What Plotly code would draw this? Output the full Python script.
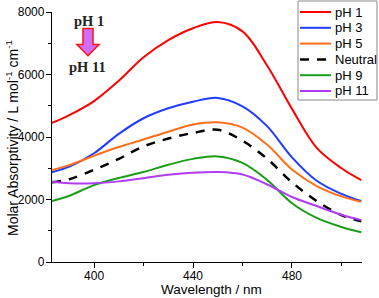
import plotly.graph_objects as go

wavelength = [383, 390, 400, 410, 420, 430, 440, 450, 460, 470, 480, 490, 500, 508]
ph1 = [4450, 4700, 5150, 5800, 6550, 7100, 7480, 7680, 7380, 6280, 4900, 3650, 3000, 2620]
ph3 = [2875, 3050, 3480, 4100, 4600, 4920, 5130, 5250, 4980, 4340, 3350, 2600, 2180, 1950]
ph5 = [2940, 3100, 3400, 3680, 3920, 4170, 4400, 4470, 4300, 3750, 2960, 2430, 2100, 1925]
neutral = [2550, 2650, 2950, 3300, 3700, 3950, 4130, 4230, 3880, 3300, 2550, 1950, 1500, 1300]
ph9 = [1950, 2120, 2460, 2690, 2880, 3110, 3300, 3380, 3170, 2620, 1880, 1410, 1120, 950]
ph11 = [2565, 2520, 2520, 2580, 2680, 2790, 2860, 2880, 2800, 2480, 2080, 1790, 1510, 1340]

series = [
    ("pH 1", ph1, "#ff0000", "solid"),
    ("pH 3", ph3, "#1f3cff", "solid"),
    ("pH 5", ph5, "#ff6f1a", "solid"),
    ("Neutral", neutral, "#000000", "9px,8px"),
    ("pH 9", ph9, "#1a9e1a", "solid"),
    ("pH 11", ph11, "#b13cf5", "solid"),
]

W, H = 379, 298
ML, MR, MT, MB = 52, 17, 12, 36
PW, PH = W - ML - MR, H - MT - MB


def paper_x(px):
    return (px - ML) / PW


def paper_y(py):
    return (H - MB - py) / PH


fig = go.Figure()
for name, vals, col, dash in series:
    fig.add_trace(go.Scatter(x=wavelength, y=vals, name=name, mode="lines", showlegend=False,
                             line=dict(color=col, width=2.5 if name == "Neutral" else 2, dash=dash,
                                       shape="spline", smoothing=1.0)))

# legend drawn as box + samples + labels
fig.add_shape(type="rect", xref="paper", yref="paper",
              x0=paper_x(298), x1=paper_x(377), y0=paper_y(100), y1=paper_y(1),
              line=dict(color="#8a8a8a", width=1), fillcolor="white", layer="above")
for i, (name, vals, col, dash) in enumerate(series):
    yc = 12 + i * 15.8
    fig.add_shape(type="line", xref="paper", yref="paper",
                  x0=paper_x(300), x1=paper_x(331), y0=paper_y(yc), y1=paper_y(yc),
                  line=dict(color=col, width=2.5 if name == "Neutral" else 2, dash=dash), layer="above")
    fig.add_annotation(xref="paper", yref="paper", x=paper_x(333), y=paper_y(yc),
                       xanchor="left", yanchor="middle", text=name, showarrow=False,
                       font=dict(size=13, color="#000"))

# decorative arrow (pH 1 -> pH 11)
def px2x(p):
    return 383 + (p - 52) / 2.475


def py2y(p):
    return (262.5 - p) * 32


pts = [(83, 29), (93, 29), (93, 45), (99, 45), (88, 56), (77, 45), (83, 45)]
path = "M " + " L ".join(f"{px2x(a):.3f},{py2y(b):.1f}" for a, b in pts) + " Z"
fig.add_shape(type="path", path=path, xref="x", yref="y",
              fillcolor="#cf6cff", line=dict(color="#ff1a1a", width=1.6))

fig.add_annotation(x=px2x(89), y=py2y(21), text="<b>pH 1</b>", showarrow=False,
                   xref="x", yref="y", font=dict(family="Liberation Serif", size=14.5, color="#222"))
fig.add_annotation(x=px2x(88), y=py2y(67), text="<b>pH 11</b>", showarrow=False,
                   xref="x", yref="y", font=dict(family="Liberation Serif", size=14.5, color="#222"))

# axis titles
fig.add_annotation(xref="paper", yref="paper", x=paper_x(211), y=paper_y(289),
                   xanchor="center", yanchor="middle", showarrow=False,
                   text="Wavelength / nm", font=dict(size=13.5, color="#000"))
fig.add_annotation(xref="paper", yref="paper", x=paper_x(12), y=paper_y(138),
                   xanchor="center", yanchor="middle", showarrow=False, textangle=-90,
                   text="Molar Absorptivity / L mol<sup>-1</sup> cm<sup>-1</sup>",
                   font=dict(size=14, color="#000"))

fig.update_layout(
    width=W, height=H,
    margin=dict(l=ML, r=MR, t=MT, b=MB),
    paper_bgcolor="white", plot_bgcolor="white",
    font=dict(family="Liberation Sans, Arial", size=12, color="#000"),
    showlegend=False,
)
fig.update_xaxes(range=[383, 508.3], showgrid=False, zeroline=False, automargin=False,
                 showline=True, linecolor="#000", linewidth=1.3,
                 ticks="outside", ticklen=5, tickcolor="#000", ticklabelstandoff=-3,
                 tickvals=[400, 440, 480],
                 minor=dict(tickvals=[420, 460, 500], ticks="outside", ticklen=3, tickcolor="#000"))
fig.update_yaxes(range=[0, 8000], showgrid=False, zeroline=False, automargin=False,
                 showline=True, linecolor="#000", linewidth=1.3,
                 ticks="outside", ticklen=5, tickcolor="#000", ticklabelstandoff=-1,
                 tickvals=[0, 2000, 4000, 6000, 8000],
                 minor=dict(tickvals=[1000, 3000, 5000, 7000], ticks="outside", ticklen=3, tickcolor="#000"))

fig.write_html("out.html", config={"displayModeBar": False},
               post_script="document.body.style.margin='0px';document.body.style.overflow='hidden';")
